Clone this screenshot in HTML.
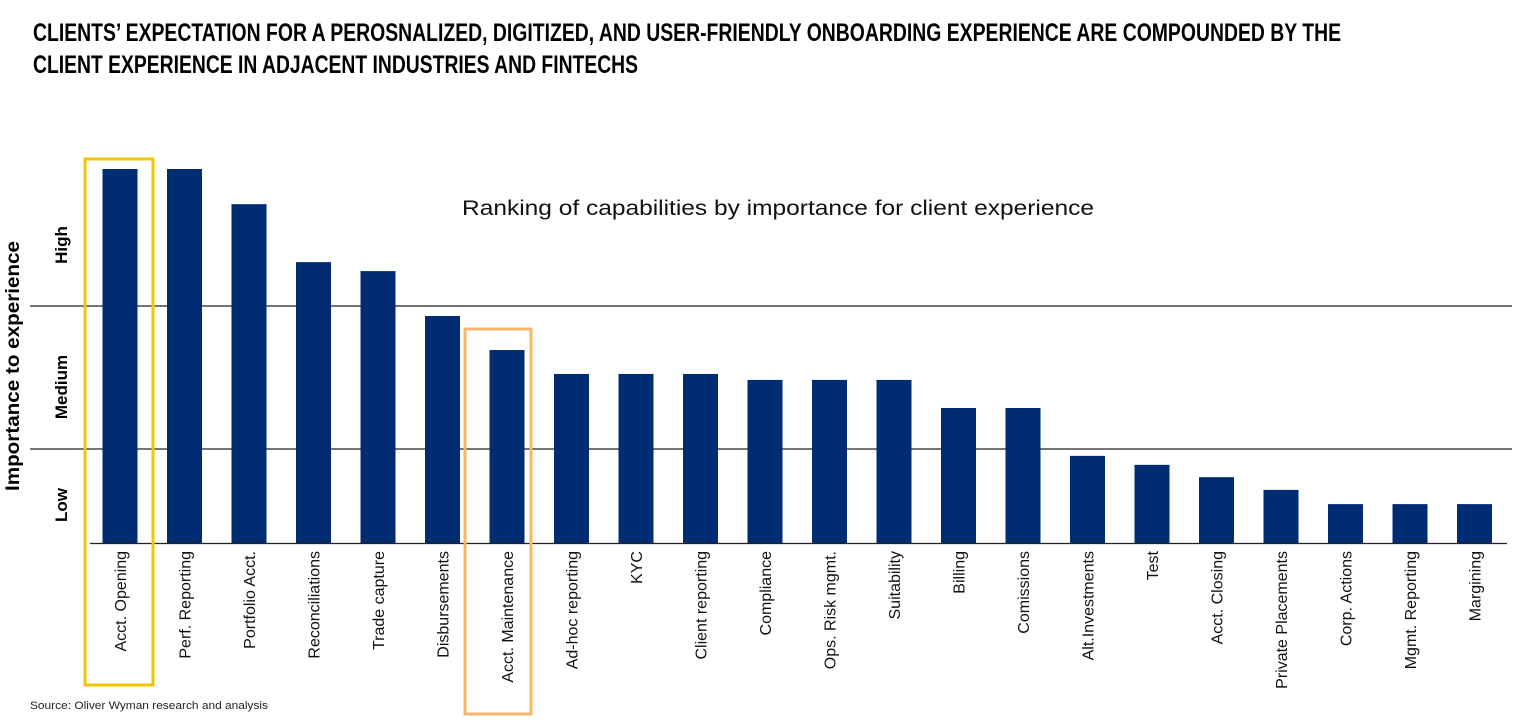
<!DOCTYPE html>
<html><head><meta charset="utf-8"><style>
html,body{margin:0;padding:0;background:#fff;width:1536px;height:722px;overflow:hidden}
svg{display:block}
.t{font-family:"Liberation Sans Narrow","Liberation Sans",sans-serif;font-weight:bold;font-size:25px;fill:#000}
.l{font-family:"Liberation Sans",sans-serif;font-size:16px;fill:#111}
</style></head><body>
<svg id="chart" width="1536" height="722">
<text class="t" x="33" y="41" textLength="1308" lengthAdjust="spacingAndGlyphs">CLIENTS’ EXPECTATION FOR A PEROSNALIZED, DIGITIZED, AND USER-FRIENDLY ONBOARDING EXPERIENCE ARE COMPOUNDED BY THE</text>
<text class="t" x="33" y="73" textLength="605" lengthAdjust="spacingAndGlyphs">CLIENT EXPERIENCE IN ADJACENT INDUSTRIES AND FINTECHS</text>
<text x="462" y="215" font-family="Liberation Sans,sans-serif" font-size="21" fill="#111" textLength="632" lengthAdjust="spacingAndGlyphs">Ranking of capabilities by importance for client experience</text>
<line x1="30" y1="306" x2="1512" y2="306" stroke="#222" stroke-width="1.3"/>
<line x1="30" y1="449" x2="1512" y2="449" stroke="#222" stroke-width="1.3"/>
<text transform="translate(19,366) rotate(-90)" text-anchor="middle" font-family="Liberation Sans,sans-serif" font-weight="bold" font-size="19" fill="#000" textLength="250" lengthAdjust="spacingAndGlyphs">Importance to experience</text>
<text transform="translate(67,245) rotate(-90)" text-anchor="middle" font-family="Liberation Sans,sans-serif" font-weight="bold" font-size="17" fill="#000">High</text>
<text transform="translate(67,387) rotate(-90)" text-anchor="middle" font-family="Liberation Sans,sans-serif" font-weight="bold" font-size="17" fill="#000">Medium</text>
<text transform="translate(67,505) rotate(-90)" text-anchor="middle" font-family="Liberation Sans,sans-serif" font-weight="bold" font-size="17" fill="#000">Low</text>
<g id="bars"></g>
<line x1="90" y1="543.5" x2="1507" y2="543.5" stroke="#222" stroke-width="1.3"/>
<rect x="85" y="159" width="68" height="526" fill="none" stroke="#f5c400" stroke-width="3"/>
<rect x="465" y="329" width="66" height="385" fill="none" stroke="#f6b56b" stroke-width="3"/>
<text x="30" y="709" font-family="Liberation Sans,sans-serif" font-size="11" fill="#222" textLength="238" lengthAdjust="spacingAndGlyphs">Source: Oliver Wyman research and analysis</text>
</svg>
<script>
const categories=["Acct. Opening","Perf. Reporting","Portfolio Acct.","Reconciliations","Trade capture","Disbursements","Acct. Maintenance","Ad-hoc reporting","KYC","Client reporting","Compliance","Ops. Risk mgmt.","Suitability","Billing","Comissions","Alt.Investments","Test","Acct. Closing","Private Placements","Corp. Actions","Mgmt. Reporting","Margining"];
const values=[100,100,90.6,75.1,72.7,60.7,51.6,45.2,45.2,45.2,43.6,43.6,43.6,36.1,36.1,23.3,20.9,17.6,14.2,10.4,10.4,10.4];
const NS="http://www.w3.org/2000/svg";
const x0=120,step=64.5,bw=35,yBase=543,yTop=169;
const xs=i=>x0+i*step;
const ys=v=>yBase-(v/100)*(yBase-yTop);
const g=document.getElementById('bars');
categories.forEach((c,i)=>{
  const r=document.createElementNS(NS,'rect');
  r.setAttribute('x',xs(i)-bw/2);r.setAttribute('y',ys(values[i]));
  r.setAttribute('width',bw);r.setAttribute('height',yBase-ys(values[i]));
  r.setAttribute('fill','#002d72');
  
  
  g.appendChild(r);
  const t=document.createElementNS(NS,'text');
  t.setAttribute('class','l');
  t.setAttribute('text-anchor','end');
  t.setAttribute('transform','translate('+(xs(i)+6)+',551) rotate(-90)');
  t.textContent=c;
  
  
  g.appendChild(t);
});
</script>
</body></html>
